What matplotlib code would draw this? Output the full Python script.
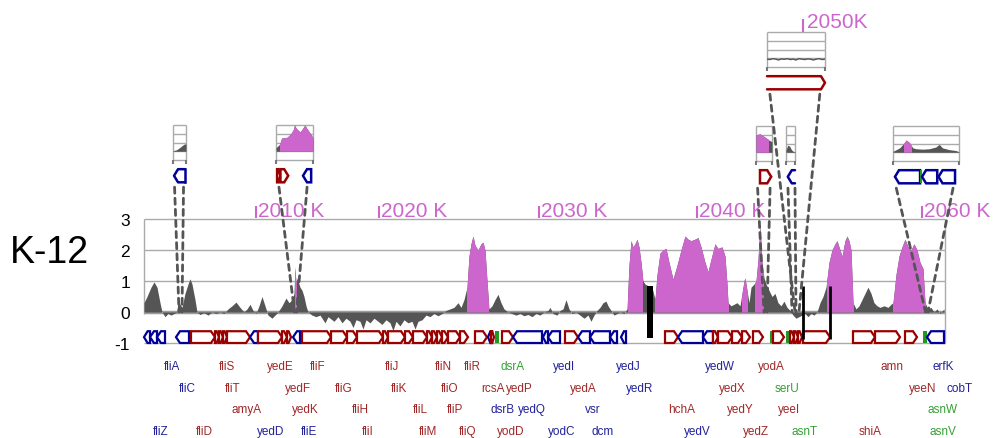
import matplotlib
matplotlib.use('Agg')
import matplotlib.pyplot as plt
from matplotlib.patches import Polygon, Rectangle, ConnectionPatch

plt.rcParams['font.family'] = ['Liberation Sans', 'DejaVu Sans']

magenta = '#cc66cc'
dgray = '#555555'
gridc = '#aaaaaa'
red = '#990000'
blue = '#000099'
green = '#229922'
lab_colors = {'r': '#a02828', 'b': '#22229a', 'g': '#33a033'}

W, H = 993, 439

# ---- main coverage trace (position along the compressed track, log ratio) ----
cov_x = [144, 147, 151, 154, 157, 160, 162, 165, 168, 171, 174, 177, 178, 180, 182, 185, 188, 190, 192, 195,
         197, 200, 204, 208, 212, 216, 220, 224, 228, 232, 236, 240, 244, 247, 250, 253, 256, 259, 262, 265,
         268, 272, 275, 278, 282, 286, 289, 292, 294, 295, 296, 297, 300, 302, 304, 306, 308, 312, 316, 320,
         325, 328, 330, 334, 338, 342, 346, 350, 353, 356, 360, 363, 366, 370, 374, 378, 382, 386, 390, 393,
         396, 400, 404, 408, 412, 415, 418, 422, 426, 430, 434, 438, 442, 446, 450, 454, 458, 461, 464, 467,
         469, 471, 473, 475, 478, 481, 483, 485, 487, 489, 492, 495, 498, 501, 504, 508, 512, 516, 520, 524,
         528, 532, 536, 540, 544, 548, 550, 553, 557, 560, 563, 566, 569, 572, 576, 580, 584, 588, 591, 594,
         597, 600, 603, 606, 608, 611, 614, 617, 620, 624, 627, 629, 631, 633, 635, 637, 639, 641, 643, 645,
         648, 652, 655, 657, 660, 663, 666, 669, 673, 677, 681, 685, 688, 691, 695, 698, 701, 705, 708, 711,
         715, 718, 722, 725, 727, 728, 731, 734, 737, 740, 742, 744, 745, 747, 749, 751, 754, 756, 758, 760,
         762, 764, 766, 769, 772, 775, 778, 781, 784, 787, 790, 793, 796, 799, 802, 805, 808, 811, 814, 817,
         820, 823, 826, 829, 832, 835, 837, 839, 842, 845, 847, 849, 851, 853, 856, 859, 862, 865, 868, 871,
         874, 877, 880, 884, 888, 891, 893, 896, 899, 902, 905, 908, 911, 914, 917, 920, 923, 925, 928, 931,
         934, 937, 940, 944]
cov_y = [0.3, 0.5, 0.8, 0.97, 0.8, 0.3, 0.0, -0.15, -0.05, -0.1, -0.05, 0.0, 0.4, 0.25, 0.15, 0.6, 0.9, 1.07, 0.9, 0.4,
         0.0, -0.08, -0.02, -0.1, 0.0, -0.05, 0.0, -0.05, 0.1, 0.2, 0.32, 0.15, 0.0, 0.1, 0.25, 0.05, -0.05, 0.2, 0.5, 0.2,
         -0.1, -0.2, -0.1, 0.0, 0.2, 0.45, 0.3, 0.4, 0.6, 1.45, 0.9, 1.1, 0.8, 0.7, 0.5, 0.2, 0.0, -0.1, -0.15, -0.1,
         -0.35, -0.15, -0.2, -0.3, -0.15, -0.35, -0.2, -0.3, -0.5, -0.25, -0.3, -0.55, -0.25, -0.35, -0.2, -0.3, -0.4, -0.25, -0.35, -0.6,
         -0.3, -0.45, -0.25, -0.35, -0.3, -0.55, -0.3, -0.25, -0.1, -0.15, -0.05, -0.12, -0.05, 0.05, 0.1, 0.15, 0.3, 0.15, 0.4, 0.8,
         1.8, 2.2, 2.45, 2.15, 2.0, 2.2, 2.25, 2.0, 1.0, 0.1, 0.2, 0.4, 0.57, 0.3, 0.1, 0.0, -0.05, -0.1, -0.05, -0.12,
         -0.08, -0.15, -0.05, -0.1, 0.0, 0.05, 0.15, -0.05, -0.1, 0.05, 0.1, 0.4, 0.1, -0.05, 0.0, -0.1, -0.2, -0.1, -0.3, -0.1,
         0.05, 0.15, 0.3, 0.35, 0.2, 0.05, -0.1, -0.05, 0.0, -0.05, 0.1, 1.5, 2.3, 2.1, 2.2, 2.35, 2.1, 1.6, 1.0, 0.9,
         0.85, 0.8, 0.4, 1.2, 1.9, 2.0, 2.05, 1.6, 1.06, 1.5, 2.0, 2.45, 2.35, 2.3, 2.35, 2.4, 2.1, 1.6, 1.3, 1.7,
         2.2, 2.05, 2.1, 1.8, 0.9, 0.3, 0.2, 0.25, 0.3, 0.2, 0.6, 1.0, 1.1, 0.7, 0.3, 0.8, 0.9, 1.0, 1.7, 2.8,
         1.6, 1.1, 0.9, 0.7, 0.5, 0.6, 0.3, 0.2, 0.35, 0.15, 0.05, -0.1, -0.2, -0.15, -0.1, -0.05, -0.15, -0.05, -0.1, 0.0,
         0.3, 0.5, 0.8, 1.6, 2.0, 2.2, 2.3, 2.1, 1.8, 2.3, 2.45, 2.3, 2.0, 0.3, 0.1, 0.2, 0.4, 0.6, 0.8, 0.6,
         0.3, 0.2, 0.15, 0.2, 0.15, 0.25, 0.3, 1.2, 1.8, 2.1, 2.35, 2.1, 2.0, 2.2, 2.0, 1.6, 1.4, 0.3, 0.1, 0.15,
         0.0, 0.1, -0.05, 0.1]
magenta_ranges = [(294.5, 295.8), (467, 488), (628, 642), (655, 727.5), (742, 747), (755, 763), (827, 853), (893, 925)]

# genes on the main track: start, end, strand (+1 red, -1 blue, 0 tRNA green)
gene_start = [144, 150, 157, 176, 191, 215, 219, 223, 227, 250, 258, 282, 287, 293, 302, 331, 347, 357, 383, 388,
              405, 413, 427, 432, 437, 442, 448, 460, 475, 488, 491, 495, 502, 513, 543, 548, 565, 578, 590, 610,
              621, 665, 678, 703, 713, 718, 732, 742, 753, 770, 773, 786, 790, 794, 798, 803, 853, 875, 905, 923, 927]
gene_end = [150, 157, 165, 189, 215, 219, 223, 227, 250, 258, 282, 287, 291, 300, 331, 347, 357, 383, 388, 405,
            413, 427, 432, 437, 442, 448, 460, 468, 487, 492, 494, 499, 513, 542, 548, 560, 578, 590, 610, 617,
            626, 678, 703, 713, 718, 732, 742, 750, 763, 773, 784, 789, 794, 798, 802, 830, 875, 900, 917, 927, 944]
gene_strand = [-1, -1, -1, -1, 1, 1, 1, 1, 1, -1, 1, 1, 1, -1, 1, 1, 1, 1, 1, 1,
               1, 1, 1, 1, 1, 1, 1, 1, 1, -1, 1, 0, 1, -1, -1, -1, 1, -1, -1, -1,
               -1, 1, -1, -1, 1, 1, 1, 1, 1, 0, 1, 0, 1, 1, 1, 1, 1, 1, 1, 0, -1]

# collapsed-region markers
bar_x, bar_w = [647], [6]
line_x = [803, 830]

# genome position ticks
pos_x = [256, 379, 539, 697, 922]
pos_labels = ['2010 K', '2020 K', '2030 K', '2040 K', '2060 K']

# gene names: x, row, colour
lab_names = ['fliA', 'fliS', 'yedE', 'fliF', 'fliJ', 'fliN', 'fliR', 'dsrA', 'yedI', 'yedJ', 'yedW', 'yodA', 'amn', 'erfK',
             'fliC', 'fliT', 'yedF', 'fliG', 'fliK', 'fliO', 'rcsA', 'yedP', 'yedA', 'yedR', 'yedX', 'serU', 'yeeN', 'cobT',
             'amyA', 'yedK', 'fliH', 'fliL', 'fliP', 'dsrB', 'yedQ', 'vsr', 'hchA', 'yedY', 'yeeI', 'asnW',
             'fliZ', 'fliD', 'yedD', 'fliE', 'fliI', 'fliM', 'fliQ', 'yodD', 'yodC', 'dcm', 'yedV', 'yedZ', 'asnT', 'shiA', 'asnV']
lab_x = [172, 227, 280, 318, 392, 443, 472, 513, 564, 628, 720, 771, 892, 943,
         187, 233, 298, 344, 399, 450, 493, 519, 583, 640, 732, 787, 923, 960,
         247, 305, 360, 420, 455, 503, 532, 593, 682, 740, 789, 943,
         161, 204, 271, 309, 368, 428, 468, 511, 562, 603, 697, 756, 805, 870, 943]
lab_row = [0] * 14 + [1] * 14 + [2] * 12 + [3] * 15
lab_col = list('brrrrrrgbbbrrb' + 'brrrrrrrrbrgrb' + 'rrrrrbbbrrrg' + 'brbbrrrrbbbrgrg')

# zoomed inserts: box placement (px), coverage, genes, where the dashed lines land on the track
ins_left = [173, 276, 756, 786, 767, 893]
ins_right = [186, 313, 772, 795, 825, 959]
ins_top = [126, 126, 127, 127, 33, 127]
ins_cov_x = [[0, 0.25, 0.5, 0.75, 0.9, 1.0],
             [0, 0.1, 0.15, 0.3, 0.4, 0.47, 0.5, 0.55, 0.65, 0.72, 0.78, 0.85, 0.95, 1.0],
             [0, 0.25, 0.5, 0.75, 0.8, 1.0],
             [0, 0.2, 0.4, 0.6, 0.8, 1.0],
             [0, 0.05, 0.1, 0.15, 0.2, 0.25, 0.3, 0.35, 0.4, 0.45, 0.5, 0.55, 0.6, 0.65, 0.7, 0.75, 0.8, 0.85, 0.9, 0.95, 1.0],
             [0, 0.05, 0.1, 0.15, 0.2, 0.25, 0.3, 0.35, 0.45, 0.55, 0.65, 0.7, 0.75, 0.85, 0.95, 1.0]]
ins_cov_y = [[0.05, 0.15, 0.4, 0.7, 0.85, 0.8],
             [0.4, 0.8, 1.5, 1.6, 2.0, 2.5, 3.0, 2.6, 2.2, 2.6, 3.0, 2.5, 1.9, 1.5],
             [2.0, 2.1, 1.8, 1.5, 1.4, 1.2],
             [0.3, 0.8, 0.7, 0.3, 0.1, 0.05],
             [-0.1, -0.15, -0.05, -0.1, -0.2, -0.08, -0.12, -0.05, -0.15, -0.1, -0.2, -0.05, -0.1, -0.15, -0.08, -0.1, -0.2, -0.1, -0.05, -0.15, -0.1],
             [0.1, 0.3, 0.5, 0.9, 1.4, 1.1, 0.5, 0.4, 0.35, 0.4, 0.6, 0.9, 0.5, 0.3, 0.2, 0.05]]
ins_magenta = [None, (0.12, 1.0), (0.0, 0.75), None, None, (0.16, 0.27)]
# insert genes: (start, end, strand, open side)
ins_genes = [[(0.08, 0.92, -1, 'left')],
             [(0.03, 0.12, 1, None), (0.12, 0.33, 1, None), (0.73, 0.95, -1, None)],
             [(0.25, 0.95, 1, None)],
             [(0.2, 1.0, -1, 'right')],
             [(0.0, 1.0, 1, 'left')],
             [(0.03, 0.41, -1, None), (0.41, 0.44, 0, None), (0.44, 0.67, -1, None), (0.69, 0.94, -1, None)]]
ins_from = [(0.12, 0.81), (0.08, 0.84), (0.1, 0.88), (0.22, 1.0), (0.05, 0.91), (0.05, 0.91)]
ins_land = [(179, 182), (294.5, 296.5), (764, 767), (792, 796), (795, 799), (925.5, 928)]


def draw_gene(ax, s, e, strand, y0, y1, tip, open_side=None, lw=1.6):
    if strand == 0:
        ax.add_patch(Rectangle((s, y0), e - s, y1 - y0, color=green, lw=0, zorder=4, clip_on=False))
        return
    col = red if strand > 0 else blue
    ym = (y0 + y1) / 2
    t = min(tip, (e - s) * 0.6)
    if strand > 0:
        pts = [(s, y1), (e - t, y1), (e, ym), (e - t, y0), (s, y0)]
    else:
        pts = [(e, y1), (s + t, y1), (s, ym), (s + t, y0), (e, y0)]
    if open_side is None:
        ax.add_patch(Polygon(pts, closed=True, fc='white', ec=col, lw=lw, zorder=4, clip_on=False))
    else:
        xs, ys = zip(*pts)
        ax.plot(xs, ys, color=col, lw=lw, zorder=4, clip_on=False, solid_capstyle='round')
        if (open_side == 'right' and strand > 0) or (open_side == 'left' and strand < 0):
            ax.plot([pts[0][0], pts[-1][0]], [y1, y0], color=col, lw=lw, zorder=4, clip_on=False)


fig = plt.figure(figsize=(W / 100, H / 100), dpi=100)


def px_axes(l, t, r, b):
    return fig.add_axes([l / W, 1 - b / H, (r - l) / W, (b - t) / H])


# ---- main panel ----
ax = px_axes(144, 220, 945, 345)
ax.set_xlim(144, 945)
ax.set_ylim(-1.032, 3)
for sp in ax.spines.values():
    sp.set_visible(False)
ax.set_xticks([])
ax.set_yticks([3, 2, 1, 0, -1])
ax.set_yticklabels(['3', '2', '1', '0', '-1'])
ax.tick_params(axis='y', length=0, pad=10, labelsize=12.5)

ax.hlines([1, 2, 3], 144, 945, color=gridc, lw=1, zorder=1, clip_on=False)
ax.hlines(-1, 144, 945, color=gridc, lw=1, zorder=1, clip_on=False)
ax.axhline(0, color='#9c9c9c', lw=2.5, zorder=1)
ax.vlines(144, -0.05, 3, color=gridc, lw=1, clip_on=False)
ax.vlines(945, -1, 3, color=gridc, lw=1, clip_on=False)

ax.fill_between(cov_x, 0, cov_y, color=dgray, lw=0, zorder=2)
for a, b in magenta_ranges:
    p = ax.fill_between(cov_x, 0, cov_y, color=magenta, lw=0, zorder=3)
    p.set_clip_path(Rectangle((a, -2), b - a, 6, transform=ax.transData))

for s, e, st in zip(gene_start, gene_end, gene_strand):
    draw_gene(ax, s, e, st, -1.0, -0.62, 4)

for x, w in zip(bar_x, bar_w):
    ax.add_patch(Rectangle((x, -0.85), w, 1.7, color='black', lw=0, zorder=5))
ax.vlines(line_x, -0.88, 0.85, color='black', lw=2, zorder=5)

ax.vlines(pos_x, 3.03, 3.42, color=magenta, lw=1.5, clip_on=False)
for x, lab in zip(pos_x, pos_labels):
    ax.text(x + 2, 3.1, lab, color=magenta, fontsize=15, ha='left', va='baseline', clip_on=False)

row_y = [-1.74, -2.45, -3.13, -3.84]
for name, x, r, c in zip(lab_names, lab_x, lab_row, lab_col):
    ax.text(x, row_y[r], name, color=lab_colors[c], fontsize=8.5, ha='center', va='center', clip_on=False)

fig.text(10 / W, 1 - 253 / H, 'K-12', fontsize=27, ha='left', va='center')

# ---- inserts ----
for i in range(len(ins_left)):
    l, r, t = ins_left[i], ins_right[i], ins_top[i]
    ia = px_axes(l, t, r, t + 58)
    ia.set_xlim(0, 1)
    ia.set_ylim(3 - 58 / 8.75, 3)
    ia.axis('off')
    ia.hlines([3, 2, 1, 0, -1], 0, 1, color=gridc, lw=1, clip_on=False, zorder=1)
    ia.vlines([0, 1], -1, 3, color=gridc, lw=1, clip_on=False, zorder=1)
    ia.vlines([0, 1], -1.4, -1, color='#777777', lw=1.5, clip_on=False)
    if i == 4:
        ia.plot(ins_cov_x[i], ins_cov_y[i], color=dgray, lw=1, zorder=2)
    else:
        ia.fill_between(ins_cov_x[i], 0, ins_cov_y[i], color=dgray, lw=0, zorder=2)
    if ins_magenta[i] is not None:
        a, b = ins_magenta[i]
        p = ia.fill_between(ins_cov_x[i], 0, ins_cov_y[i], color=magenta, lw=0, zorder=3)
        p.set_clip_path(Rectangle((a, -2), b - a, 6, transform=ia.transData))
    for s, e, st, op in ins_genes[i]:
        draw_gene(ia, s, e, st, -3.55, -2.05, 4 / (r - l), open_side=op, lw=1.8)
    for fx, lx in zip(ins_from[i], ins_land[i]):
        con = ConnectionPatch(xyA=(fx, -4.1), coordsA=ia.transData, xyB=(lx, 0), coordsB=ax.transData,
                              color=dgray, lw=2, linestyle=(0, (2.2, 1.8)), zorder=6)
        fig.add_artist(con)
    if i == 4:
        tx = (803 - l) / (r - l)
        ia.vlines(tx, 3.05, 4.5, color=magenta, lw=1.5, clip_on=False)
        ia.text(tx + 0.07, 3.6, '2050K', color=magenta, fontsize=15, ha='left', va='baseline', clip_on=False)

fig.savefig('out.png', dpi=100)
